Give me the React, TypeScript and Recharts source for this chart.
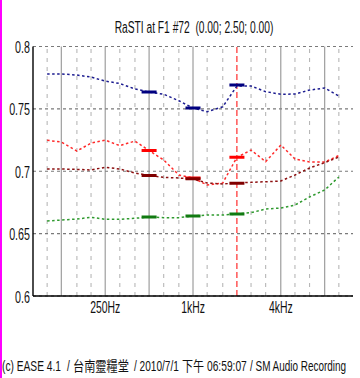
import React from 'react';
import { ComposedChart, Line, XAxis, YAxis, CartesianGrid, ReferenceLine } from 'recharts';

// third-octave band centre frequencies (Hz)
const freqs = [100, 125, 160, 200, 250, 315, 400, 500, 630, 800, 1000, 1250, 1600, 2000, 2500, 3150, 4000, 5000, 6300, 8000, 10000];
const octaveFreqs = [125, 250, 500, 1000, 4000, 8000];
const markerFreq = 2000;

// RaSTI per band
const blueVals = [0.778, 0.778, 0.7771, 0.7755, 0.7723, 0.7703, 0.766, 0.7635, 0.7617, 0.7565, 0.7507, 0.7477, 0.7517, 0.7683, 0.7683, 0.7638, 0.7617, 0.7619, 0.7651, 0.7667, 0.7603];
const redVals = [0.7248, 0.7234, 0.7162, 0.7226, 0.725, 0.7205, 0.7242, 0.7166, 0.709, 0.697, 0.6946, 0.689, 0.6906, 0.7112, 0.717, 0.7077, 0.721, 0.7098, 0.7074, 0.7074, 0.7126];
const maroonVals = [0.7018, 0.7018, 0.7015, 0.701, 0.7032, 0.7018, 0.6986, 0.6966, 0.6951, 0.6946, 0.6938, 0.6906, 0.6898, 0.6906, 0.6911, 0.6916, 0.6922, 0.697, 0.7026, 0.7069, 0.7114];
const greenVals = [0.6601, 0.6609, 0.6617, 0.6631, 0.6615, 0.6615, 0.6623, 0.6633, 0.6628, 0.6628, 0.6641, 0.6649, 0.6649, 0.6657, 0.6668, 0.6697, 0.6705, 0.6729, 0.6794, 0.685, 0.6954];

// octave-band (thick marks) values
const bandFreqs = [500, 1000, 2000];
const blueBand = [0.7635, 0.7507, 0.7691];
const redBand = [0.7166, 0.6946, 0.7112];
const maroonBand = [0.6966, 0.694, 0.6903];
const greenBand = [0.6633, 0.6641, 0.6657];

const yTicks = [0.6, 0.65, 0.7, 0.75, 0.8];
const yTickLabels = ['0.6', '0.65', '0.7', '0.75', '0.8'];
const xTickFreqs = [250, 1000, 4000];
const xTickLabels = ['250Hz', '1kHz', '4kHz'];
const domainFreqs = [80, 12500];

const title = 'RaSTI at F1 #72  (0.00; 2.50; 0.00)';
const footerParts = ['(c) EASE 4.1', '/', '台南靈糧堂', '/ 2010/7/1', '下午', '06:59:07', '/ SM Audio Recording'];
const footerX = [2, 67, 73, 134, 182, 207, 250];
const footerScale = [0.73, 0.73, 0.8, 0.72, 0.79, 0.73, 0.71];

const oct = (f: number) => Math.log2(f / 1000);

const lineData = freqs.map((f, i) => ({
  x: oct(f),
  blue: blueVals[i],
  red: redVals[i],
  maroon: maroonVals[i],
  green: greenVals[i],
}));

const HALF = 0.171;
const bandData: any[] = [];
bandFreqs.forEach((f, i) => {
  const row = { blue: blueBand[i], red: redBand[i], maroon: maroonBand[i], green: greenBand[i] };
  bandData.push({ x: oct(f) - HALF, ...row });
  bandData.push({ x: oct(f) + HALF, ...row });
  bandData.push({ x: oct(f) + HALF + 0.01, blue: null, red: null, maroon: null, green: null });
});

const FONT = "'Liberation Sans', Arial, sans-serif";
const FOOT_FONT = "'Liberation Sans', Arial, 'Noto Sans CJK TC', sans-serif";

const YTick = (props: any) => {
  const { x, y, payload } = props;
  const idx = yTicks.indexOf(payload.value);
  return (
    <text
      x={0}
      y={0}
      transform={`translate(${x},${y}) scale(0.67,1)`}
      textAnchor="end"
      dy={6.5}
      fontSize={16}
      fontFamily={FONT}
      fill="#111"
    >
      {idx >= 0 ? yTickLabels[idx] : ''}
    </text>
  );
};

const XTick = (props: any) => {
  const { x, y, payload } = props;
  const idx = xTickFreqs.findIndex((f) => Math.abs(oct(f) - payload.value) < 1e-6);
  return (
    <text
      x={0}
      y={0}
      transform={`translate(${x},${y}) scale(0.65,1)`}
      textAnchor="middle"
      dy={17}
      fontSize={16}
      fontFamily={FONT}
      fill="#111"
    >
      {idx >= 0 ? xTickLabels[idx] : ''}
    </text>
  );
};

const seriesStyle = [
  { key: 'blue', color: '#1c1c90', thick: '#000080' },
  { key: 'red', color: '#ff2a2a', thick: '#ff0000' },
  { key: 'maroon', color: '#8c1010', thick: '#800000' },
  { key: 'green', color: '#2f9a2f', thick: '#117a11' },
];

export default function App() {
  return (
    <div style={{ position: 'fixed', left: 0, top: 0, width: 360, height: 378, background: '#fff', overflow: 'hidden' }}>
      <div style={{ position: 'absolute', left: 0, top: 0, width: 2, height: 378, background: '#ff00ff' }} />
      <svg width={360} height={378} style={{ position: 'absolute', left: 0, top: 0 }}>
        <text
          x={0}
          y={0}
          transform="translate(194,33) scale(0.64,1)"
          textAnchor="middle"
          fontSize={16}
          fontFamily={FONT}
          fill="#111"
          style={{ whiteSpace: 'pre' }}
        >
          {title}
        </text>
        {footerParts.map((t, i) => (
          <text
            key={i}
            x={0}
            y={0}
            transform={`translate(${footerX[i]},370.5) scale(${footerScale[i]},1)`}
            fontSize={14}
            fontFamily={FOOT_FONT}
            fill="#111"
          >
            {t}
          </text>
        ))}
      </svg>
      <div style={{ position: 'absolute', left: 0, top: 0 }}>
        <ComposedChart width={360} height={378} margin={{ top: 46.5, right: 7, bottom: 52, left: 0 }}>
          <CartesianGrid vertical={false} horizontal stroke="#7a7a7a" strokeDasharray="3 3" strokeWidth={1.2} />
          {freqs.map((f) => {
            const isOct = octaveFreqs.includes(f);
            const isMarker = f === markerFreq;
            return (
              <ReferenceLine
                key={f}
                x={oct(f)}
                stroke={isMarker ? '#ff0000' : isOct ? '#8a8a8a' : '#b0b0b0'}
                strokeWidth={1}
                strokeDasharray={isMarker ? '6 3' : isOct ? undefined : '4 5'}
                ifOverflow="extendDomain"
              />
            );
          })}
          <XAxis
            type="number"
            dataKey="x"
            domain={[oct(domainFreqs[0]), oct(domainFreqs[1])]}
            allowDataOverflow
            ticks={xTickFreqs.map(oct)}
            tick={<XTick />}
            tickLine={false}
            tickSize={0}
            tickMargin={0}
            height={30}
            axisLine={{ stroke: '#000', strokeWidth: 1.6 }}
          />
          <YAxis
            type="number"
            domain={[0.6, 0.8]}
            allowDataOverflow
            ticks={yTicks}
            tick={<YTick />}
            tickLine={false}
            tickSize={0}
            tickMargin={3}
            width={33}
            axisLine={{ stroke: '#000', strokeWidth: 1.4 }}
          />
          {seriesStyle.map((s) => (
            <Line
              key={s.key}
              data={lineData}
              dataKey={s.key}
              stroke={s.color}
              strokeWidth={1.5}
              strokeDasharray="2.5 2.5"
              dot={false}
              activeDot={false}
              isAnimationActive={false}
              type="linear"
            />
          ))}
          {seriesStyle.map((s) => (
            <Line
              key={s.key + '-band'}
              data={bandData}
              dataKey={s.key}
              stroke={s.thick}
              strokeWidth={3}
              strokeLinecap="butt"
              dot={false}
              activeDot={false}
              isAnimationActive={false}
              type="linear"
            />
          ))}
        </ComposedChart>
      </div>
    </div>
  );
}
